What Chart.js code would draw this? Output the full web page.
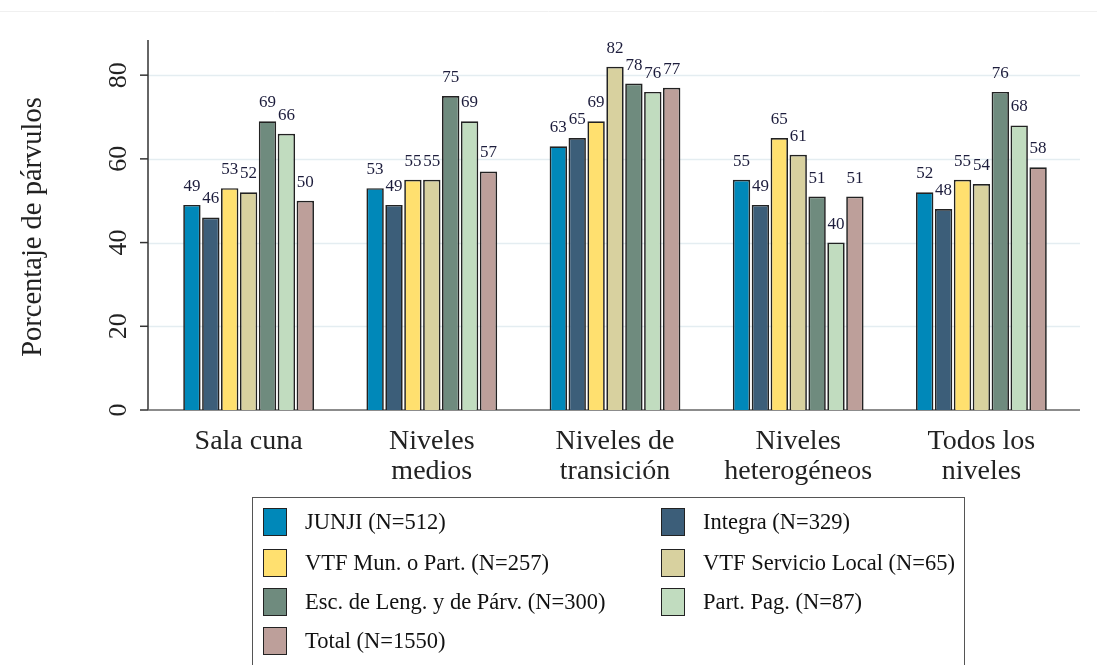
<!DOCTYPE html>
<html>
<head>
<meta charset="utf-8">
<script src="https://cdn.jsdelivr.net/npm/chart.js@4.4.1/dist/chart.umd.min.js"></script>
<style>
  html,body{margin:0;padding:0;background:#fff;}
  #wrap{position:relative;width:1097px;height:665px;overflow:hidden;}
  canvas{position:absolute;left:0;top:0;}
  #legend{position:absolute;left:252px;top:497px;width:713px;height:190px;border:1.5px solid #555;box-sizing:border-box;font-family:"Liberation Serif","Times New Roman",serif;font-size:22.5px;color:#111;}
  .item{position:absolute;display:flex;align-items:center;height:30px;white-space:nowrap;}
  .sw{width:24px;height:28px;border:1.5px solid #222;box-sizing:border-box;margin-right:18px;}
</style>
</head>
<body>
<div id="wrap">
<canvas id="c" width="1097" height="665"></canvas>
<div id="legend"></div>
</div>
<script>
const categories = [["Sala cuna"], ["Niveles", "medios"], ["Niveles de", "transición"], ["Niveles", "heterogéneos"], ["Todos los", "niveles"]];
const seriesNames = ["JUNJI (N=512)", "Integra (N=329)", "VTF Mun. o Part. (N=257)", "VTF Servicio Local (N=65)", "Esc. de Leng. y de Párv. (N=300)", "Part. Pag. (N=87)", "Total (N=1550)"];
const junji = [49, 53, 63, 55, 52];
const integra = [46, 49, 65, 49, 48];
const vtfMun = [53, 55, 69, 65, 55];
const vtfLocal = [52, 55, 82, 61, 54];
const escLeng = [69, 75, 78, 51, 76];
const partPag = [66, 69, 76, 40, 68];
const total = [50, 57, 77, 51, 58];
const yTicks = [0, 20, 40, 60, 80];
const colors = ["#0088b9", "#3c5e79", "#ffe06f", "#d8d19f", "#6f8b7e", "#c1dcbf", "#bd9f9a"];

const seriesValues = [junji, integra, vtfMun, vtfLocal, escLeng, partPag, total];
const datasets = seriesValues.map((v, i) => ({
  label: seriesNames[i],
  data: v,
  backgroundColor: colors[i],
  borderColor: "#222",
  borderWidth: 1.7,
  categoryPercentage: 0.722,
  barPercentage: 0.92
}));

const serif = '"Liberation Serif","Times New Roman",serif';
const labelFont = '17px "Liberation Serif","Times New Roman",serif';

const decor = {
  id: 'decor',
  beforeDatasetsDraw(chart) {
    const ctx = chart.ctx, y = chart.scales.y, a = chart.chartArea;
    const L = 148, R = 1080;
    ctx.save();
    ctx.strokeStyle = '#f0f0f0';
    ctx.lineWidth = 1;
    ctx.beginPath(); ctx.moveTo(0, 11.5); ctx.lineTo(1097, 11.5); ctx.stroke();
    ctx.strokeStyle = '#e4edf1';
    ctx.lineWidth = 1.5;
    yTicks.forEach(t => {
      if (t === 0) return;
      const py = Math.round(y.getPixelForValue(t)) + 0.5;
      ctx.beginPath(); ctx.moveTo(L, py); ctx.lineTo(R, py); ctx.stroke();
    });
    ctx.strokeStyle = '#333';
    ctx.lineWidth = 1.5;
    const p0 = y.getPixelForValue(0);
    ctx.beginPath(); ctx.moveTo(L, a.top); ctx.lineTo(L, p0); ctx.stroke();
    ctx.strokeStyle = '#666';
    ctx.beginPath(); ctx.moveTo(L, p0); ctx.lineTo(R, p0); ctx.stroke();
    ctx.strokeStyle = '#333';
    ctx.fillStyle = '#222';
    ctx.font = '26px ' + serif;
    ctx.textAlign = 'center';
    ctx.textBaseline = 'middle';
    yTicks.forEach(t => {
      const py = y.getPixelForValue(t);
      ctx.beginPath(); ctx.moveTo(140, py); ctx.lineTo(L, py); ctx.stroke();
      ctx.save();
      ctx.translate(119, py);
      ctx.rotate(-Math.PI / 2);
      ctx.fillText(String(t), 0, 0);
      ctx.restore();
    });
    ctx.save();
    ctx.translate(34, 227);
    ctx.rotate(-Math.PI / 2);
    ctx.font = '28.5px ' + serif;
    ctx.fillText('Porcentaje de párvulos', 0, 0);
    ctx.restore();
    ctx.restore();
  },
  afterDatasetsDraw(chart) {
    const ctx = chart.ctx;
    ctx.save();
    ctx.font = labelFont;
    ctx.fillStyle = '#1d1d3c';
    ctx.textAlign = 'center';
    ctx.textBaseline = 'alphabetic';
    chart.data.datasets.forEach((ds, i) => {
      const meta = chart.getDatasetMeta(i);
      meta.data.forEach((bar, j) => {
        ctx.fillText(String(ds.data[j]), bar.x, bar.y - 14);
      });
    });
    ctx.restore();
  }
};

new Chart(document.getElementById('c'), {
  type: 'bar',
  data: { labels: categories, datasets },
  options: {
    responsive: false,
    animation: false,
    layout: { padding: { top: 40, bottom: 170, left: 0, right: 24 } },
    plugins: { legend: { display: false }, tooltip: { enabled: false } },
    scales: {
      x: {
        grid: { display: false, drawTicks: false },
        border: { display: false },
        ticks: { font: { family: serif, size: 28, lineHeight: 1.07 }, color: '#222', padding: 17, maxRotation: 0, minRotation: 0 },
        afterFit(s) { s.height = 85; }
      },
      y: {
        min: 0, max: 88.4,
        grid: { display: false },
        border: { display: false },
        ticks: { display: false, stepSize: 20 },
        afterFit(s) { s.width = 157; }
      }
    }
  },
  plugins: [decor]
});

const leg = document.getElementById('legend');
const pos = [[10, 9], [408, 9], [10, 50], [408, 50], [10, 89], [408, 89], [10, 128]];
seriesNames.forEach((n, i) => {
  const d = document.createElement('div');
  d.className = 'item';
  d.style.left = pos[i][0] + 'px';
  d.style.top = pos[i][1] + 'px';
  d.innerHTML = '<span class="sw" style="background:' + colors[i] + '"></span><span>' + n + '</span>';
  leg.appendChild(d);
});
</script>
</body>
</html>
